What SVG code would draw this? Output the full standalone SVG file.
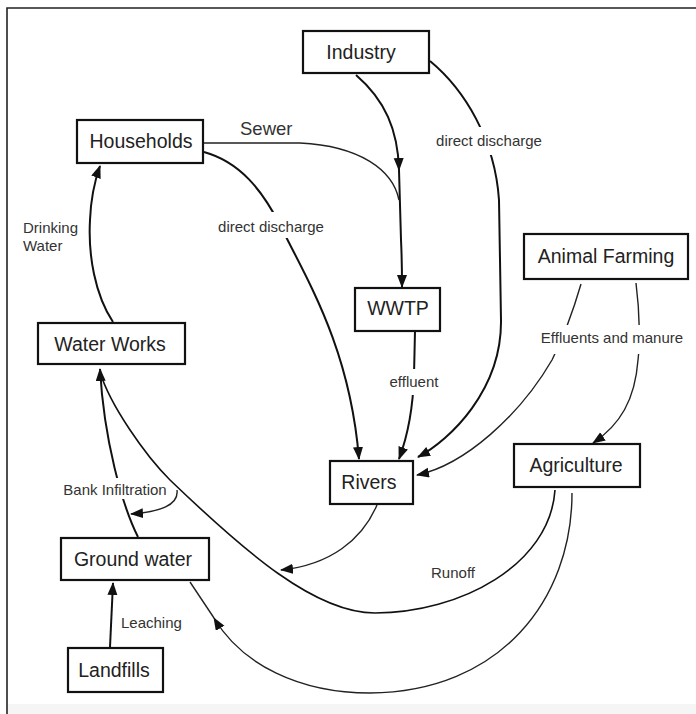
<svg xmlns="http://www.w3.org/2000/svg" width="696" height="714" viewBox="0 0 696 714">
<defs>
<marker id="arr" markerUnits="userSpaceOnUse" markerWidth="14" markerHeight="11" refX="12" refY="5" orient="auto">
<path d="M0,0 L13,5 L0,10 z" fill="#111"/>
</marker>
<style>
.node rect{fill:#fff;stroke:#111;stroke-width:2.2}
.node text{font-family:"Liberation Sans",Arial,sans-serif;font-size:19.5px;fill:#222;text-anchor:middle}
.c{fill:none;stroke:#111;stroke-width:2}
.t{fill:none;stroke:#222;stroke-width:1.4}
.lbl{font-family:"Liberation Sans",Arial,sans-serif;font-size:15px;fill:#333}
.gap{fill:#fff;stroke:none}
</style>
</defs>
<rect x="0" y="0" width="696" height="714" fill="#fff"/>
<rect x="8" y="704" width="688" height="10" fill="#f5f5f5"/>
<path d="M7,714 L7,8 L696,8" fill="none" stroke="#222" stroke-width="1.6"/>

<g id="connectors">
<path class="c" d="M356,75 C385,100 398,130 399,170" marker-end="url(#arr)"/>
<path class="c" d="M399,170 L401,240 C402,260 402,275 402,287" marker-end="url(#arr)"/>
<path class="t" d="M204,143 L300,143 C360,146 393,170 399,200"/>
<path class="c" d="M204,152 C240,162 262,190 280,225 C310,285 350,350 359,459" marker-end="url(#arr)"/>
<path class="c" d="M430,61 C465,90 495,140 499,200 L501,320 C502,390 450,440 418,457" marker-end="url(#arr)"/>
<path class="c" d="M415,331 L414,375 C413,410 408,435 399,459" marker-end="url(#arr)"/>
<path class="t" d="M581,284 C572,315 562,340 552,360 C520,415 465,465 417,475" marker-end="url(#arr)"/>
<path class="t" d="M636,283 C640,315 640,345 638,360 C635,400 620,425 593,443" marker-end="url(#arr)"/>
<path class="c" d="M113,322 C95,295 88,255 90,220 C91,195 95,180 100,166" marker-end="url(#arr)"/>
<path class="t" d="M377,505 C362,540 330,565 281,570" marker-end="url(#arr)"/>
<path class="c" d="M555,490 C550,565 460,613 375,613 C315,613 245,552 170,480 C145,455 110,405 100,372" style="stroke-width:1.6"/>
<path class="c" d="M138,537 C122,505 104,440 100,369" marker-end="url(#arr)"/>
<path class="t" d="M177,490 C179,505 160,512 131,514" marker-end="url(#arr)"/>
<path class="t" d="M572,493 C572,600 500,692 370,693 C300,693 242,665 214,618" marker-end="url(#arr)"/>
<path class="t" d="M214,618 L190,582"/>
<path class="c" d="M110,647 L113,583" marker-end="url(#arr)"/>
</g>

<g id="labels">
<rect class="gap" x="214" y="212" width="114" height="26"/>
<rect class="gap" x="432" y="127" width="114" height="28"/>
<rect class="gap" x="537" y="325" width="150" height="29"/>
<rect class="gap" x="386" y="369" width="58" height="26"/>
<rect class="gap" x="60" y="478" width="107" height="21"/>
<text class="lbl" x="271" y="232" text-anchor="middle">direct discharge</text>
<text class="lbl" x="489" y="146" text-anchor="middle">direct discharge</text>
<text class="lbl" x="23" y="233">Drinking</text>
<text class="lbl" x="23" y="251">Water</text>
<text class="lbl" x="612" y="343" text-anchor="middle">Effluents and manure</text>
<text class="lbl" x="414" y="387" text-anchor="middle">effluent</text>
<text class="lbl" x="115" y="495" text-anchor="middle">Bank Infiltration</text>
<text class="lbl" x="453" y="578" text-anchor="middle">Runoff</text>
<text class="lbl" x="121" y="628">Leaching</text>
<text class="lbl" x="240" y="135" style="font-size:18.5px">Sewer</text>
</g>

<g id="industry" class="node"><rect x="303" y="31" width="126" height="42"/><text x="361" y="59">Industry</text></g>
<g id="households" class="node"><rect x="77" y="120" width="126" height="43"/><text x="141" y="148">Households</text></g>
<g id="waterworks" class="node"><rect x="38" y="323" width="147" height="41"/><text x="110" y="351">Water Works</text></g>
<g id="wwtp" class="node"><rect x="355" y="288" width="85" height="43"/><text x="398" y="315">WWTP</text></g>
<g id="animalfarming" class="node"><rect x="524" y="234" width="164" height="45"/><text x="606" y="263">Animal Farming</text></g>
<g id="agriculture" class="node"><rect x="514" y="444" width="126" height="43"/><text x="576" y="472">Agriculture</text></g>
<g id="rivers" class="node"><rect x="330" y="461" width="83" height="43"/><text x="369" y="489">Rivers</text></g>
<g id="groundwater" class="node"><rect x="61" y="538" width="148" height="42"/><text x="133" y="566">Ground water</text></g>
<g id="landfills" class="node"><rect x="68" y="648" width="95" height="44"/><text x="114" y="677">Landfills</text></g>
</svg>
